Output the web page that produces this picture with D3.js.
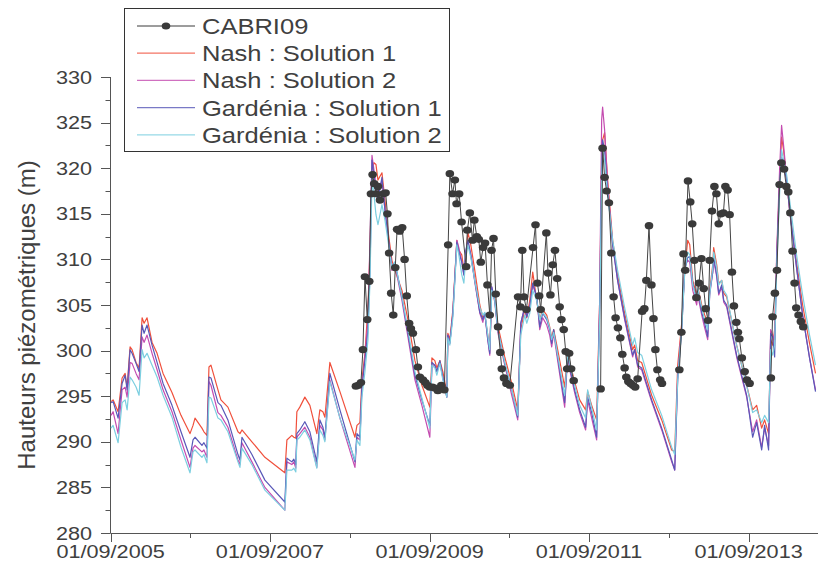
<!DOCTYPE html>
<html><head><meta charset="utf-8">
<script src="https://cdn.jsdelivr.net/npm/d3@7"></script>
<style>
body{margin:0;background:#fff}
svg{display:block}
text{font-family:"Liberation Sans",Arial,sans-serif;fill:#404040}
</style>
</head><body>
<svg id="chart" width="818" height="568"></svg>
<script>
// ---------------- data ----------------
const seriesNames = ["CABRI09", "Nash : Solution 1", "Nash : Solution 2", "Gardénia : Solution 1", "Gardénia : Solution 2"];
const seriesColors = ["#3a3a3a", "#f0503c", "#c44cb0", "#5858b8", "#7ccfe0"];

const yTickValues = [280, 285, 290, 295, 300, 305, 310, 315, 320, 325, 330];
const yMinorValues = [282.5, 287.5, 292.5, 297.5, 302.5, 307.5, 312.5, 317.5, 322.5, 327.5];
const xTickDates = ["2005-09-01", "2007-09-01", "2009-09-01", "2011-09-01", "2013-09-01"];
const xTickLabels = ["01/09/2005", "01/09/2007", "01/09/2009", "01/09/2011", "01/09/2013"];
const xMinorDates = ["2006-09-01", "2008-09-01", "2010-09-01", "2012-09-01"];
const xDomain = ["2005-09-01", "2014-07-16"];
const yDomain = [280, 330];

// simulation dates (decimal years)
const simYears = [
 2005.672, 2005.697, 2005.760, 2005.810, 2005.848, 2005.873, 2005.910, 2005.935, 2005.985, 2006.023,
 2006.061, 2006.086, 2006.123, 2006.186, 2006.249, 2006.324, 2006.436, 2006.549, 2006.662, 2006.700,
 2006.725, 2006.812, 2006.837, 2006.875, 2006.900, 2006.925, 2007.013, 2007.050, 2007.138, 2007.264,
 2007.289, 2007.314, 2007.439, 2007.602, 2007.852, 2007.878, 2007.940, 2007.965, 2007.990, 2008.003,
 2008.040, 2008.103, 2008.166, 2008.253, 2008.291, 2008.329, 2008.354, 2008.416, 2008.542, 2008.730,
 2008.755, 2008.792, 2008.817, 2008.855, 2008.893, 2008.918, 2008.943, 2008.968, 2008.993, 2009.018,
 2009.068, 2009.106, 2009.143, 2009.193, 2009.231, 2009.319, 2009.394, 2009.482, 2009.569, 2009.669,
 2009.695, 2009.732, 2009.757, 2009.795, 2009.832, 2009.882, 2009.895, 2009.920, 2009.958, 2010.008,
 2010.033, 2010.070, 2010.096, 2010.121, 2010.146, 2010.183, 2010.233, 2010.296, 2010.334, 2010.359,
 2010.396, 2010.421, 2010.446, 2010.484, 2010.522, 2010.609, 2010.697, 2010.772, 2010.810, 2010.860,
 2010.885, 2010.923, 2010.960, 2011.010, 2011.048, 2011.085, 2011.136, 2011.173, 2011.198, 2011.223,
 2011.273, 2011.361, 2011.399, 2011.424, 2011.486, 2011.549, 2011.624, 2011.649, 2011.700, 2011.762,
 2011.800, 2011.825, 2011.837, 2011.862, 2011.900, 2011.963, 2012.025, 2012.113, 2012.213, 2012.238,
 2012.276, 2012.326, 2012.451, 2012.577, 2012.702, 2012.740, 2012.777, 2012.827, 2012.865, 2012.902,
 2012.928, 2012.965, 2013.015, 2013.028, 2013.078, 2013.115, 2013.153, 2013.178, 2013.216, 2013.228,
 2013.266, 2013.291, 2013.329, 2013.354, 2013.391, 2013.516, 2013.642, 2013.717, 2013.767, 2013.830,
 2013.867, 2013.917, 2013.943, 2013.968, 2013.993, 2014.018, 2014.055, 2014.080, 2014.105, 2014.143,
 2014.181, 2014.268, 2014.344, 2014.431, 2014.506
];

const nash1 = [
 294.4, 294.6, 293.3, 297.0, 297.5, 296.0, 300.4, 300.1, 298.7, 298.1,
 303.6, 303.0, 303.6, 300.9, 299.7, 297.5, 295.4, 292.9, 290.9, 291.8,
 292.6, 291.5, 291.1, 290.7, 298.2, 298.4, 295.7, 294.6, 293.8, 291.1,
 290.9, 291.3, 290.0, 288.3, 286.6, 290.2, 290.7, 290.5, 290.4, 293.3,
 293.8, 294.9, 294.0, 290.9, 293.5, 293.3, 292.7, 298.7, 295.5, 290.5,
 291.8, 292.1, 296.8, 299.7, 304.8, 311.0, 319.8, 320.6, 320.4, 318.7,
 319.5, 316.5, 313.2, 309.9, 308.8, 306.6, 303.4, 298.9, 296.2, 293.8,
 299.2, 298.9, 298.1, 298.9, 297.7, 295.4, 301.9, 301.2, 304.5, 312.1,
 311.0, 310.5, 308.8, 310.2, 313.0, 311.6, 308.8, 305.0, 303.6, 303.9,
 301.7, 300.1, 306.6, 305.8, 302.8, 299.3, 296.4, 293.5, 302.3, 304.5,
 303.6, 305.5, 308.6, 305.5, 303.4, 304.5, 303.9, 302.6, 301.4, 302.3,
 300.1, 296.0, 300.1, 298.7, 296.6, 294.6, 293.5, 295.5, 294.0, 292.4,
 305.5, 320.9, 323.1, 323.9, 318.7, 312.1, 308.3, 304.1, 300.1, 300.6,
 298.9, 298.7, 295.1, 292.4, 289.1, 288.9, 298.4, 303.0, 308.8, 312.1,
 311.6, 307.7, 306.1, 307.0, 305.0, 303.9, 303.1, 306.6, 309.4, 311.3,
 309.4, 307.4, 307.7, 306.3, 305.9, 300.6, 296.2, 293.5, 294.0, 291.5,
 292.4, 290.9, 301.2, 300.6, 302.3, 309.9, 318.7, 323.4, 322.0, 318.7,
 315.4, 309.7, 305.0, 300.8, 297.5
];

const nash2 = [
 292.9, 293.3, 290.9, 295.7, 296.0, 294.9, 298.7, 298.6, 297.5, 296.8,
 301.5, 300.9, 301.7, 299.7, 297.9, 295.7, 293.3, 290.2, 287.2, 289.3,
 289.6, 288.9, 289.1, 288.3, 296.6, 296.2, 293.2, 292.9, 291.6, 288.0,
 287.5, 289.9, 287.8, 285.0, 282.5, 287.8, 287.5, 287.8, 287.1, 290.5,
 290.9, 291.6, 290.5, 287.2, 291.8, 291.3, 290.2, 296.8, 292.6, 287.2,
 290.5, 290.2, 295.7, 299.3, 303.4, 312.1, 321.4, 319.8, 318.2, 317.1,
 318.7, 315.4, 312.7, 308.8, 309.4, 305.5, 301.5, 296.8, 294.0, 290.5,
 298.4, 298.4, 297.7, 298.7, 297.0, 294.9, 301.7, 300.8, 304.1, 312.1,
 311.3, 309.7, 308.3, 310.8, 312.1, 310.5, 307.5, 304.1, 303.1, 304.1,
 301.2, 299.5, 307.0, 305.3, 302.0, 298.4, 295.1, 292.4, 303.0, 304.8,
 303.7, 304.8, 307.2, 305.9, 302.3, 303.6, 302.8, 301.7, 300.4, 301.9,
 298.9, 293.8, 299.5, 297.9, 295.4, 293.2, 291.3, 294.6, 292.6, 290.2,
 305.5, 325.3, 326.7, 324.2, 318.2, 311.6, 307.7, 303.4, 299.3, 300.1,
 298.2, 297.9, 294.4, 291.3, 287.8, 286.9, 297.3, 302.6, 309.1, 309.9,
 309.7, 306.6, 305.0, 306.1, 303.9, 302.5, 301.2, 306.1, 308.6, 309.9,
 308.1, 306.1, 307.0, 305.3, 304.8, 299.3, 294.9, 291.1, 292.4, 289.4,
 291.5, 289.6, 302.3, 301.7, 301.2, 310.5, 319.8, 324.7, 322.5, 318.9,
 315.4, 309.1, 303.9, 299.2, 295.7
];

const gardenia1 = [
 294.3, 294.4, 292.6, 296.4, 297.3, 295.7, 300.1, 299.7, 298.6, 297.7,
 302.8, 301.9, 302.8, 300.6, 298.7, 296.4, 294.0, 291.1, 288.3, 290.2,
 290.5, 289.6, 289.9, 289.3, 297.1, 297.0, 294.3, 294.0, 292.4, 288.6,
 288.0, 290.5, 288.6, 285.8, 283.4, 288.2, 287.8, 288.1, 287.5, 290.9,
 291.3, 292.2, 291.1, 287.8, 292.4, 291.6, 290.5, 297.5, 293.5, 287.8,
 290.9, 290.5, 296.0, 298.9, 302.3, 308.5, 320.9, 319.3, 317.1, 316.5,
 319.0, 315.4, 312.7, 309.2, 309.7, 305.9, 301.9, 297.3, 294.6, 291.8,
 298.7, 298.4, 297.7, 298.9, 297.1, 294.9, 301.7, 300.8, 304.1, 311.9,
 310.8, 309.7, 308.3, 311.0, 312.1, 310.5, 307.7, 304.2, 303.4, 304.1,
 301.2, 299.7, 307.0, 305.5, 302.3, 298.6, 295.7, 292.7, 303.0, 304.8,
 303.7, 304.8, 307.4, 305.9, 302.6, 304.1, 303.4, 302.3, 300.8, 302.3,
 299.3, 294.3, 299.7, 298.2, 295.7, 293.5, 291.6, 294.9, 293.2, 290.5,
 304.5, 319.8, 323.1, 322.0, 317.6, 311.6, 307.7, 303.6, 299.5, 300.1,
 298.4, 298.1, 294.6, 291.5, 288.0, 286.9, 296.8, 302.3, 308.8, 310.2,
 310.3, 307.4, 305.5, 306.6, 304.2, 303.0, 301.5, 306.4, 308.6, 310.2,
 308.3, 306.3, 307.2, 305.5, 305.0, 299.5, 295.1, 290.5, 292.1, 289.1,
 291.8, 289.1, 301.9, 301.5, 299.3, 309.9, 318.2, 321.2, 320.4, 318.7,
 315.4, 309.1, 303.9, 299.2, 295.5
];

const gardenia2 = [
 291.5, 291.8, 289.9, 294.3, 294.6, 293.5, 297.1, 296.8, 296.0, 295.1,
 300.1, 299.2, 299.7, 298.4, 297.1, 295.1, 292.7, 289.4, 286.6, 288.9,
 289.1, 288.3, 288.6, 287.7, 294.9, 294.8, 292.6, 292.4, 291.1, 287.8,
 287.2, 289.3, 287.5, 284.7, 282.5, 286.9, 286.9, 287.1, 286.7, 290.2,
 290.5, 291.3, 290.2, 287.1, 291.3, 290.7, 290.0, 296.6, 292.6, 288.0,
 290.2, 289.6, 294.9, 297.7, 301.2, 307.7, 318.7, 317.1, 314.9, 313.8,
 316.0, 314.3, 312.1, 309.1, 309.7, 305.9, 302.3, 297.7, 294.8, 291.5,
 298.4, 298.1, 297.3, 298.6, 296.8, 294.9, 301.4, 300.6, 303.6, 311.6,
 310.5, 308.3, 307.4, 310.2, 311.6, 310.2, 307.7, 304.7, 303.9, 304.2,
 301.7, 300.1, 306.6, 305.5, 302.3, 298.7, 295.7, 292.9, 301.7, 303.9,
 303.0, 304.1, 306.6, 305.5, 303.4, 304.2, 303.6, 302.5, 301.2, 302.0,
 299.5, 295.1, 299.7, 298.7, 296.2, 294.0, 292.6, 295.7, 293.7, 291.3,
 303.4, 318.7, 322.0, 320.9, 317.1, 312.1, 308.8, 304.7, 300.6, 301.4,
 299.8, 299.5, 295.7, 292.9, 289.4, 288.6, 296.8, 302.3, 308.6, 310.8,
 310.5, 307.2, 305.5, 306.9, 304.7, 303.4, 302.3, 306.1, 309.1, 310.8,
 309.1, 307.2, 307.7, 306.6, 306.1, 300.6, 296.2, 293.2, 293.5, 292.1,
 292.9, 292.1, 300.1, 299.5, 300.6, 308.8, 317.1, 322.0, 320.9, 319.3,
 316.5, 310.5, 306.1, 301.7, 298.4
];

// CABRI09 observations (decimal years, metres)
const obsYears = [
 2008.742, 2008.771, 2008.805, 2008.830, 2008.855, 2008.884, 2008.909, 2008.930, 2008.951, 2008.971,
 2008.993, 2009.018, 2009.043, 2009.084, 2009.114, 2009.137, 2009.158, 2009.184, 2009.210, 2009.235,
 2009.258, 2009.290, 2009.322, 2009.352, 2009.379, 2009.409, 2009.431, 2009.456, 2009.494, 2009.519,
 2009.544, 2009.582, 2009.613, 2009.638, 2009.667, 2009.701, 2009.732, 2009.770, 2009.813, 2009.851,
 2009.899, 2009.920, 2009.954, 2009.983, 2010.004, 2010.037, 2010.067, 2010.124, 2010.139, 2010.171,
 2010.204, 2010.227, 2010.258, 2010.283, 2010.308, 2010.337, 2010.362, 2010.392, 2010.421, 2010.443,
 2010.468, 2010.496, 2010.525, 2010.553, 2010.572, 2010.599, 2010.630, 2010.672, 2010.776, 2010.806,
 2010.829, 2010.850, 2010.881, 2010.964, 2010.995, 2011.019, 2011.041, 2011.060, 2011.131, 2011.152,
 2011.182, 2011.211, 2011.239, 2011.267, 2011.298, 2011.320, 2011.349, 2011.374, 2011.392, 2011.417,
 2011.442, 2011.474, 2011.812, 2011.837, 2011.862, 2011.887, 2011.916, 2011.946, 2011.975, 2012.000,
 2012.029, 2012.059, 2012.084, 2012.113, 2012.134, 2012.159, 2012.188, 2012.217, 2012.245, 2012.276,
 2012.332, 2012.360, 2012.385, 2012.418, 2012.448, 2012.474, 2012.498, 2012.523, 2012.558, 2012.580,
 2012.798, 2012.823, 2012.850, 2012.871, 2012.906, 2012.934, 2012.959, 2012.986, 2013.011, 2013.044,
 2013.074, 2013.103, 2013.128, 2013.157, 2013.178, 2013.207, 2013.237, 2013.262, 2013.291, 2013.318,
 2013.350, 2013.375, 2013.403, 2013.428, 2013.457, 2013.482, 2013.512, 2013.532, 2013.550, 2013.581,
 2013.617, 2013.645, 2013.679, 2013.946, 2013.967, 2013.996, 2014.022, 2014.055, 2014.077, 2014.111,
 2014.139, 2014.164, 2014.190, 2014.218, 2014.243, 2014.264, 2014.293, 2014.322, 2014.352
];
const cabri09 = [
 296.1, 296.2, 296.5, 300.1, 308.1, 303.4, 307.6, 317.2, 319.3, 318.3,
 317.2, 318.0, 316.5, 317.2, 317.3, 315.0, 310.7, 306.3, 303.9, 309.1,
 313.3, 313.1, 313.5, 310.0, 306.0, 303.0, 302.4, 301.9, 300.1, 298.2,
 297.1, 296.8, 296.5, 296.2, 296.0, 296.0, 295.9, 295.6, 296.2, 295.7,
 311.6, 319.4, 317.2, 318.7, 316.1, 317.2, 314.1, 309.2, 313.2, 315.1,
 312.1, 314.3, 312.5, 312.2, 309.7, 311.3, 311.8, 307.2, 303.9, 311.0,
 312.3, 306.2, 302.6, 299.8, 298.0, 297.0, 296.4, 296.2, 305.9, 304.8,
 311.0, 305.9, 304.5, 311.3, 313.8, 307.4, 306.0, 304.5, 312.9, 308.5,
 306.1, 309.4, 311.0, 307.9, 304.8, 303.4, 302.3, 299.9, 298.0, 299.7,
 298.0, 296.7, 295.8, 322.2, 319.0, 317.5, 316.2, 310.7, 305.9, 303.6,
 302.5, 301.4, 299.6, 298.1, 297.1, 296.6, 296.4, 296.2, 296.0, 296.9,
 304.3, 304.6, 307.7, 313.7, 307.2, 303.5, 300.1, 297.9, 296.8, 296.4,
 297.9, 302.0, 310.6, 308.8, 318.6, 316.3, 313.9, 309.9, 305.8, 307.4,
 310.1, 306.8, 304.6, 303.3, 309.9, 315.3, 318.0, 317.2, 313.9, 315.0,
 315.1, 318.0, 317.6, 314.9, 308.6, 304.9, 303.1, 302.0, 301.3, 299.2,
 297.7, 296.8, 296.4, 297.0, 303.7, 306.3, 308.8, 318.2, 320.6, 319.9,
 318.0, 317.4, 315.1, 310.9, 307.4, 304.7, 303.9, 303.2, 302.6
];

// ---------------- chart ----------------
function decYear(v) {
  const yr = Math.floor(v);
  const s = Date.UTC(yr, 0, 1), e = Date.UTC(yr + 1, 0, 1);
  return new Date(s + (v - yr) * (e - s));
}
const parse = s => new Date(s + "T00:00:00Z");

const svg = d3.select("#chart");
const x = d3.scaleUtc().domain(xDomain.map(parse)).range([110.6, 818]);
const y = d3.scaleLinear().domain(yDomain).range([533, 77]);

const axisColor = "#555";
const SX = 1.17; // horizontal text stretch seen in the reference

// axes lines
svg.append("line").attr("x1", 110.5).attr("x2", 110.5).attr("y1", y(330)).attr("y2", y(280))
  .attr("stroke", axisColor).attr("stroke-width", 1);
svg.append("line").attr("x1", 110.5).attr("x2", 818).attr("y1", y(280) + 0.5).attr("y2", y(280) + 0.5)
  .attr("stroke", axisColor).attr("stroke-width", 1);

// y ticks
svg.append("g").selectAll("line").data(yTickValues).join("line")
  .attr("x1", 101).attr("x2", 110.5)
  .attr("y1", d => Math.round(y(d)) + 0.5).attr("y2", d => Math.round(y(d)) + 0.5)
  .attr("stroke", axisColor);
svg.append("g").selectAll("line").data(yMinorValues).join("line")
  .attr("x1", 105.5).attr("x2", 110.5)
  .attr("y1", d => Math.round(y(d)) + 0.5).attr("y2", d => Math.round(y(d)) + 0.5)
  .attr("stroke", axisColor);
svg.append("g").selectAll("text").data(yTickValues).join("text")
  .attr("transform", d => `translate(92,${y(d) + 6.6}) scale(${SX},1)`)
  .attr("text-anchor", "end").attr("font-size", 18.5)
  .text(d => d);

// x ticks
svg.append("g").selectAll("line").data(xTickDates).join("line")
  .attr("x1", d => Math.round(x(parse(d))) + 0.5).attr("x2", d => Math.round(x(parse(d))) + 0.5)
  .attr("y1", 533).attr("y2", 542).attr("stroke", axisColor);
svg.append("g").selectAll("line").data(xMinorDates).join("line")
  .attr("x1", d => Math.round(x(parse(d))) + 0.5).attr("x2", d => Math.round(x(parse(d))) + 0.5)
  .attr("y1", 533).attr("y2", 538).attr("stroke", axisColor);
svg.append("g").selectAll("text").data(xTickDates).join("text")
  .attr("transform", (d, i) => `translate(${x(parse(d))},558) scale(${SX},1)`)
  .attr("text-anchor", "middle").attr("font-size", 18.5)
  .text((d, i) => xTickLabels[i]);

// y title
svg.append("text")
  .attr("transform", "translate(35,315) rotate(-90)")
  .attr("text-anchor", "middle").attr("font-size", 24)
  .text("Hauteurs piézométriques (m)");

// simulated series
const sims = [nash1, nash2, gardenia1, gardenia2];
const simLine = d3.line().x(d => x(d.t)).y(d => y(d.v));
sims.forEach((arr, k) => {
  const pts = simYears.map((t, i) => ({ t: decYear(t), v: arr[i] }));
  svg.append("path").datum(pts)
    .attr("fill", "none").attr("stroke", seriesColors[k + 1])
    .attr("stroke-width", 1.2).attr("stroke-linejoin", "round")
    .attr("d", simLine);
});

// observations
const obs = obsYears.map((t, i) => ({ yr: t, t: decYear(t), v: cabri09[i] }));
const segs = [];
let cur = [];
obs.forEach((p, i) => {
  if (i > 0 && p.yr - obs[i - 1].yr > 0.15) { segs.push(cur); cur = []; }
  cur.push(p);
});
segs.push(cur);
svg.append("g").selectAll("path").data(segs).join("path")
  .attr("fill", "none").attr("stroke", "#444").attr("stroke-width", 1)
  .attr("d", simLine);
svg.append("g").selectAll("ellipse").data(obs).join("ellipse")
  .attr("cx", d => x(d.t)).attr("cy", d => y(d.v))
  .attr("rx", 4.3).attr("ry", 3.6).attr("fill", seriesColors[0]);

// legend
const lg = svg.append("g");
lg.append("rect").attr("x", 124.5).attr("y", 8.5).attr("width", 325).attr("height", 143)
  .attr("fill", "#fff").attr("stroke", "#333").attr("stroke-width", 1);
seriesNames.forEach((name, i) => {
  const cy = 26 + i * 27.2;
  lg.append("line").attr("x1", 137).attr("x2", 195).attr("y1", cy).attr("y2", cy)
    .attr("stroke", seriesColors[i]).attr("stroke-width", i === 0 ? 1 : 1.3)
    .attr("stroke-opacity", i === 0 ? 1 : 0.8);
  if (i === 0) {
    lg.append("ellipse").attr("cx", 166).attr("cy", cy).attr("rx", 4.3).attr("ry", 3.6)
      .attr("fill", seriesColors[0]);
  }
  lg.append("text")
    .attr("transform", `translate(202,${cy + 8}) scale(1.16,1)`)
    .attr("font-size", 22)
    .text(name);
});
</script>
</body></html>
